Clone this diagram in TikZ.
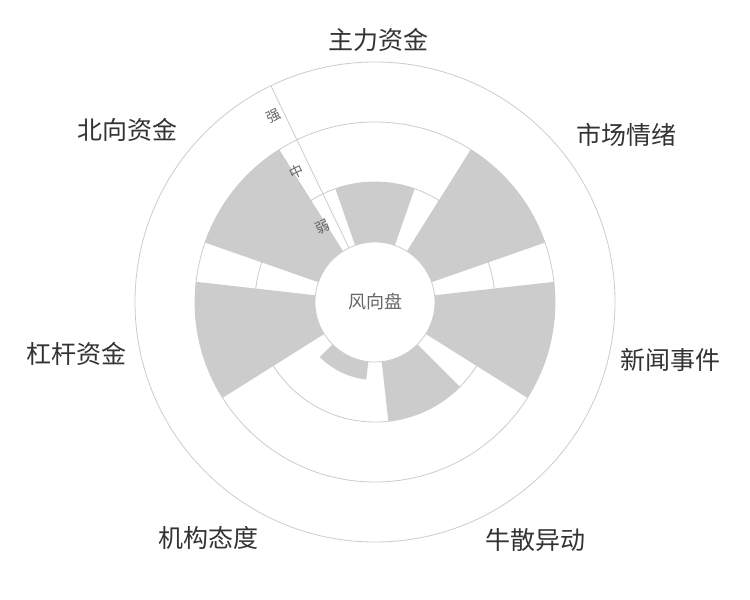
\documentclass[tikz,border=0pt]{standalone}
\usepackage{fontspec}
\usetikzlibrary{calc}
\newfontfamily\cjk{Noto Sans CJK SC}
\definecolor{bar}{HTML}{CCCCCC}
\definecolor{grid}{HTML}{CCCCCC}
\definecolor{txt}{HTML}{333333}
\begin{document}
\begin{tikzpicture}[x=1pt,y=1pt,
  lbl/.style={font=\cjk\fontsize{25}{25}\selectfont,text=txt,inner sep=0pt},
  ax/.style={font=\cjk\fontsize{14}{14}\selectfont,text=black!60,inner sep=0pt,rotate=25.7},
  gridline/.style={draw=grid,line width=0.8pt}]
\useasboundingbox (0,0) rectangle (750,-600);
\coordinate (c) at (375,-302);
\fill[white] (c) circle (240);
% bars: center angle, radius
\foreach \a/\r in {90/120, 38.57/180, -12.86/180, -64.29/120, -115.71/78, -167.14/180, 141.43/180}{
  \fill[bar] ($(c)+(\a-19.3:60)$) arc[start angle=\a-19.3,end angle=\a+19.3,radius=60]
     -- ($(c)+(\a+19.3:\r)$) arc[start angle=\a+19.3,end angle=\a-19.3,radius=\r] -- cycle;
}
\draw[gridline] (c) circle (240);
\draw[gridline] (c) circle (180);
\draw[gridline] (c) circle (120);
\fill[white] (c) circle (60);
\draw[gridline] (c) circle (60);
\draw[gridline] ($(c)+(115.71:60)$) -- ($(c)+(115.71:240)$);
\node[ax] (q) at ($(c)+(118.5:212)$) {强};
\node[ax] (m) at ($(c)+(121:152)$) {中};
\node[ax] (w) at ($(c)+(125:92)$) {弱};
\node[font=\cjk\fontsize{18}{18}\selectfont,text=black!60] (ctr) at (c) {风向盘};
\node[lbl] (l1) at (378,-40) {主力资金};
\node[lbl] (l2) at (626,-135) {市场情绪};
\node[lbl] (l3) at (670,-360) {新闻事件};
\node[lbl] (l4) at (535,-540) {牛散异动};
\node[lbl] (l5) at (208,-538) {机构态度};
\node[lbl] (l6) at (77,-354) {杠杆资金};
\node[lbl] (l7) at (127,-130) {北向资金};
\end{tikzpicture}
\end{document}
